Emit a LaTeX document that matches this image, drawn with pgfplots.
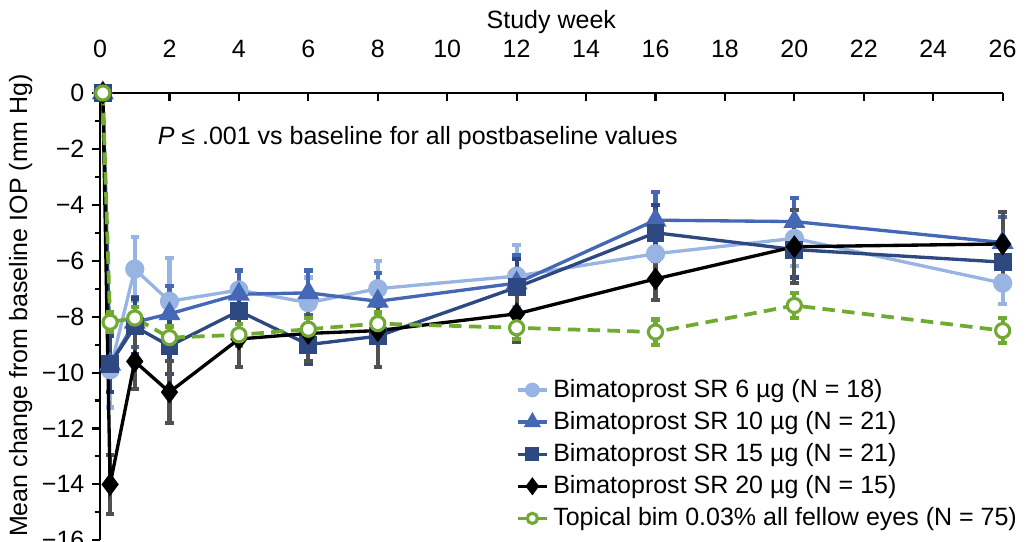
\documentclass[border=0pt]{standalone}
\usepackage{fontspec}
\setmainfont{Liberation Sans}
\usepackage{pgfplots}
\usepackage{pgfplotstable}
\pgfplotsset{compat=1.18}
\usetikzlibrary{calc}
\definecolor{cSix}{RGB}{152,180,226}
\definecolor{cTen}{RGB}{68,104,182}
\definecolor{cFif}{RGB}{46,72,130}
\definecolor{cTwe}{RGB}{0,0,0}
\definecolor{cErr}{RGB}{80,80,80}
\definecolor{cTop}{RGB}{112,170,50}

% week, mean change, error
\pgfplotstableread{
x y e
0.08 0 0
0.29 -9.9 1.35
1 -6.3 1.15
2 -7.45 1.55
4 -7.05 0.7
6 -7.5 0.9
8 -7.0 1.0
12 -6.55 1.1
16 -5.75 0.9
20 -5.2 1.0
26 -6.8 0.75
}\sixtab
\pgfplotstableread{
x y e
0.08 0 0
0.29 -9.7 1.0
1 -8.2 0.9
2 -7.9 1.0
4 -7.2 0.85
6 -7.15 0.8
8 -7.45 1.0
12 -6.8 1.0
16 -4.55 1.0
20 -4.6 0.85
26 -5.35 0.9
}\tentab
\pgfplotstableread{
x y e
0.08 0 0
0.29 -9.7 1.0
1 -8.35 1.0
2 -9.05 1.0
4 -7.8 1.0
6 -9.0 0.7
8 -8.7 1.1
12 -6.95 1.0
16 -5.0 1.0
20 -5.6 1.0
26 -6.05 0.8
}\fiftab
\pgfplotstableread{
x y e
0.08 0 0
0.29 -14.0 1.05
1 -9.6 1.0
2 -10.7 1.1
4 -8.8 1.0
6 -8.6 1.0
8 -8.5 1.3
12 -7.9 1.0
16 -6.65 0.75
20 -5.5 1.3
26 -5.4 1.15
}\twetab
\pgfplotstableread{
x y e
0.08 0 0
0.29 -8.2 0.35
1 -8.05 0.4
2 -8.75 0.4
4 -8.65 0.4
6 -8.45 0.4
8 -8.25 0.4
12 -8.4 0.4
16 -8.55 0.45
20 -7.6 0.45
26 -8.5 0.45
}\toptab

\tikzset{lbl/.style={font=\fontsize{12}{14}\selectfont}}
% error bars only, baseline row skipped
\pgfplotsset{
  errs/.style={
    forget plot, only marks, mark=none, skip coords between index={0}{1},
    error bars/.cd, y dir=both, y explicit,
    error bar style={line width=2pt, color=#1, solid},
    error mark options={rotate=90, line width=2pt, mark size=2pt, color=#1, solid},
  },
}

\begin{document}
\begin{tikzpicture}
\begin{axis}[
  scale only axis, width=433pt, height=214.6pt,
  xmin=0, xmax=26, ymin=-16, ymax=0,
  axis x line*=top, axis y line*=left,
  axis line style={line width=1pt},
  xtick={0,2,...,26}, xtick align=inside,
  ytick={0,-2,...,-16}, minor ytick={-1,-3,...,-15}, ytick align=outside,
  yticklabels={0,−2,−4,−6,−8,−10,−12,−14,−16},
  major tick length=4pt, minor tick length=2.5pt,
  tick style={line width=1pt, black},
  tick label style={lbl},
  xticklabel style={anchor=base, yshift=16.8pt},
  /pgf/number format/assume math mode=true,
  xlabel={Study week},
  ylabel={Mean change from baseline IOP (mm Hg)},
  every axis x label/.style={at={(axis description cs:0.5,1)}, anchor=base, yshift=31pt, lbl},
  every axis y label/.style={at={(axis description cs:-0.088,0.525)}, anchor=center, rotate=90, lbl},
  clip=false,
  legend cell align=left,
  legend style={at={(rel axis cs:0.46,0.37)}, anchor=north west, draw=none, fill=none,
    font=\fontsize{12}{14}\selectfont, row sep=1.2pt, inner sep=0pt},
  legend image code/.code={
    \draw[mark repeat=2, mark phase=2, every mark/.append style={scale=0.72}]
      plot coordinates {(0cm,0cm) (0.25cm,0cm) (0.5cm,0cm)};
  },
]
\addplot[errs=cSix] table[x=x, y=y, y error=e] {\sixtab};
\addplot[color=cSix, line width=1.6pt, mark=*, mark size=3.8pt]
  table[x=x, y=y] {\sixtab};
\addlegendentry{Bimatoprost SR 6 µg (N = 18)}
\addplot[errs=cTen] table[x=x, y=y, y error=e] {\tentab};
\addplot[color=cTen, line width=1.6pt, mark=triangle*, mark size=4.5pt]
  table[x=x, y=y] {\tentab};
\addlegendentry{Bimatoprost SR 10 µg (N = 21)}
\addplot[errs=cFif] table[x=x, y=y, y error=e] {\fiftab};
\addplot[color=cFif, line width=1.6pt, mark=square*, mark size=3.5pt]
  table[x=x, y=y] {\fiftab};
\addlegendentry{Bimatoprost SR 15 µg (N = 21)}
\addplot[errs=cErr] table[x=x, y=y, y error=e] {\twetab};
\addplot[color=cTwe, line width=1.6pt, mark=diamond*, mark size=4.2pt]
  table[x=x, y=y] {\twetab};
\addlegendentry{Bimatoprost SR 20 µg (N = 15)}
\addplot[errs=cTop] table[x=x, y=y, y error=e] {\toptab};
\addplot[color=cTop, line width=1.8pt, dash pattern=on 6pt off 3.5pt,
  mark=*, mark size=3.4pt, mark options={solid, draw=cTop, fill=white, line width=1.5pt}]
  table[x=x, y=y] {\toptab};
\addlegendentry{Topical bim 0.03\% all fellow eyes (N = 75)}

\node[anchor=base west, lbl] at (axis cs:1.45,-1.85)
  {\textit{P} ≤ .001 vs baseline for all postbaseline values};
\coordinate (sw) at (rel axis cs:0,0);
\coordinate (ne) at (rel axis cs:1,1);
\end{axis}
\pgfresetboundingbox
\path[use as bounding box] ($(sw)+(-48pt,-0.5pt)$) rectangle ($(ne)+(16pt,44.6pt)$);
\end{tikzpicture}
\end{document}
